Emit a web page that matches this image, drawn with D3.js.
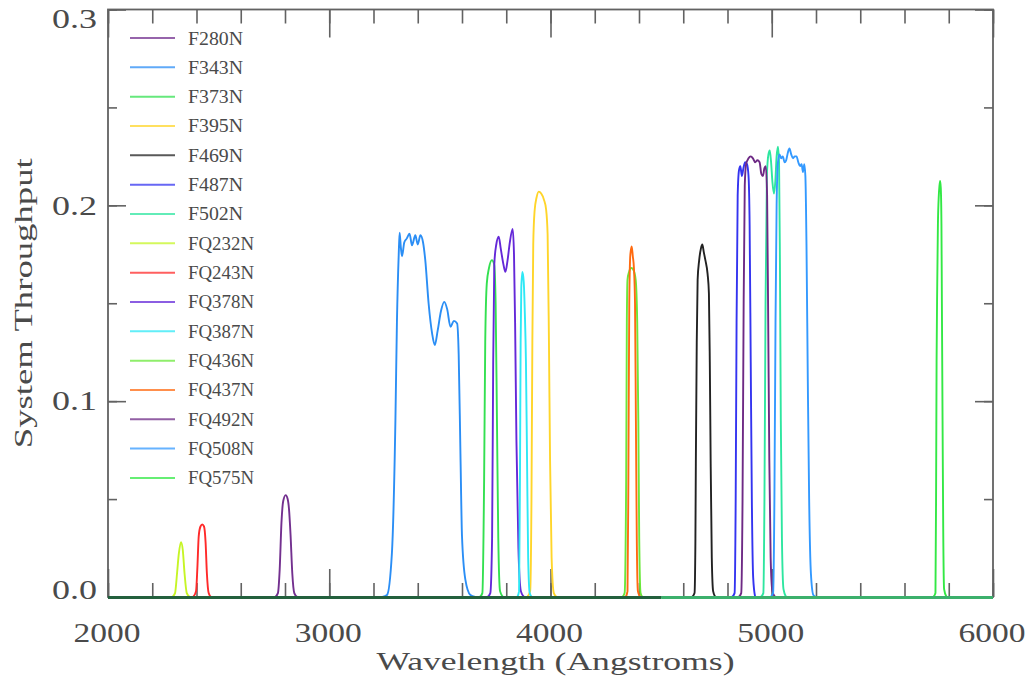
<!DOCTYPE html>
<html>
<head>
<meta charset="utf-8">
<script src="https://cdn.jsdelivr.net/npm/d3@7"></script>
<style>
  html, body { margin: 0; padding: 0; background: #fff; }
  svg { display: block; }
</style>
</head>
<body>
<script>
// Filter names, in legend / drawing order
const filterNames = ["F280N","F343N","F373N","F395N","F469N","F487N","F502N",
  "FQ232N","FQ243N","FQ378N","FQ387N","FQ436N","FQ437N","FQ492N","FQ508N","FQ575N"];

const filterColors = ["#73308f","#2b8ef5","#33e050","#ffd52a","#222222","#3434f0","#2ee6a0",
  "#c6f525","#ff2a2a","#6428d8","#2ee8f5","#6ae83a","#ff6a10","#6e2a85","#3399ff","#33e845"];

// Throughput curves: [wavelength (Angstroms), system throughput]
const F280N = [[2755,0],[2768,0.002],[2776,0.014],[2784,0.038],[2792,0.049],[2803,0.052],[2812,0.050],
  [2818,0.045],[2825,0.032],[2833,0.012],[2842,0.002],[2855,0]];
const F343N = [[3240,0],[3261,0.001],[3283,0.022],[3299,0.09],[3306,0.141],[3314,0.175],[3318,0.186],
  [3324,0.178],[3329,0.174],[3339,0.181],[3350,0.183],[3363,0.1855],[3374,0.1796],[3389,0.1847],
  [3400,0.180],[3412,0.1847],[3424,0.181],[3434,0.172],[3449,0.150],[3465,0.1345],[3477,0.1286],
  [3490,0.136],[3505,0.146],[3520,0.1507],[3533,0.147],[3548,0.138],[3563,0.141],[3578,0.1396],
  [3585,0.124],[3593,0.073],[3600,0.031],[3615,0.009],[3638,0.001],[3660,0]];
const F373N = [[3680,0],[3692,0.002],[3700,0.06],[3705,0.13],[3712,0.160],[3722,0.168],[3735,0.172],
  [3745,0.170],[3752,0.150],[3758,0.090],[3764,0.030],[3772,0.003],[3785,0]];
const F395N = [[3895,0],[3908,0.003],[3914,0.05],[3918,0.13],[3922,0.18],[3928,0.197],[3937,0.204],
  [3947,0.207],[3958,0.206],[3970,0.203],[3980,0.198],[3987,0.185],[3993,0.13],[3998,0.07],
  [4005,0.02],[4015,0.002],[4028,0]];
const F469N = [[4640,0],[4651,0.002],[4655,0.03],[4657,0.07],[4661,0.13],[4665,0.162],[4672,0.172],
  [4680,0.178],[4686,0.180],[4693,0.176],[4700,0.172],[4710,0.165],[4716,0.155],[4720,0.12],
  [4724,0.068],[4729,0.02],[4735,0.003],[4745,0]];
const F487N = [[4820,0],[4832,0.002],[4837,0.05],[4841,0.14],[4846,0.205],[4852,0.218],[4858,0.220],
  [4865,0.215],[4872,0.219],[4880,0.222],[4888,0.221],[4895,0.215],[4900,0.19],[4905,0.12],
  [4910,0.05],[4916,0.01],[4925,0]];
const F502N = [[4950,0],[4962,0.002],[4967,0.05],[4972,0.15],[4978,0.215],[4985,0.226],[4991,0.228],
  [4997,0.222],[5003,0.212],[5010,0.206],[5016,0.212],[5022,0.225],[5028,0.230],[5033,0.222],
  [5037,0.17],[5041,0.09],[5046,0.03],[5053,0.004],[5065,0]];
const FQ232N = [[2290,0],[2303,0.002],[2312,0.012],[2320,0.022],[2330,0.028],[2338,0.024],
  [2346,0.012],[2356,0.002],[2370,0]];
const FQ243N = [[2385,0],[2398,0.003],[2404,0.015],[2410,0.031],[2418,0.036],[2426,0.037],[2434,0.036],
  [2441,0.028],[2447,0.012],[2455,0.002],[2465,0]];
const FQ378N = [[3715,0],[3728,0.002],[3736,0.03],[3741,0.12],[3746,0.17],[3755,0.180],[3766,0.184],
  [3775,0.178],[3787,0.170],[3796,0.166],[3806,0.172],[3816,0.181],[3829,0.188],[3835,0.175],
  [3840,0.14],[3846,0.08],[3855,0.025],[3866,0.003],[3880,0]];
const FQ387N = [[3850,0],[3858,0.003],[3862,0.06],[3865,0.13],[3868,0.158],[3873,0.166],[3879,0.161],
  [3884,0.145],[3889,0.12],[3894,0.07],[3899,0.02],[3906,0.002],[3915,0]];
const FQ436N = [[4325,0],[4335,0.002],[4342,0.06],[4345,0.14],[4348,0.162],[4355,0.166],[4365,0.168],
  [4375,0.167],[4385,0.162],[4392,0.14],[4397,0.09],[4401,0.03],[4407,0.002],[4415,0]];
const FQ437N = [[4340,0],[4348,0.003],[4352,0.06],[4356,0.15],[4361,0.175],[4367,0.179],[4372,0.174],
  [4377,0.168],[4382,0.15],[4386,0.09],[4390,0.03],[4395,0.003],[4405,0]];
const FQ492N = [[4850,0],[4862,0.002],[4868,0.05],[4873,0.15],[4878,0.21],[4884,0.221],[4895,0.224],
  [4905,0.225],[4915,0.224],[4925,0.222],[4935,0.223],[4945,0.222],[4953,0.216],[4960,0.215],
  [4967,0.219],[4973,0.220],[4979,0.205],[4984,0.14],[4989,0.07],[4995,0.02],[5003,0.003],[5015,0]];
const FQ508N = [[4995,0],[5006,0.002],[5012,0.05],[5017,0.14],[5022,0.20],[5028,0.222],[5035,0.226],
  [5043,0.224],[5050,0.225],[5058,0.222],[5065,0.223],[5073,0.227],[5080,0.229],[5088,0.226],
  [5096,0.224],[5104,0.225],[5112,0.225],[5120,0.222],[5128,0.220],[5135,0.221],[5141,0.217],
  [5147,0.221],[5152,0.215],[5157,0.18],[5163,0.11],[5169,0.05],[5177,0.012],[5188,0.001],[5200,0]];
const FQ575N = [[5730,0],[5740,0.002],[5743,0.06],[5745,0.12],[5748,0.16],[5751,0.19],[5755,0.205],
  [5758,0.21],[5761,0.2125],[5764,0.209],[5767,0.19],[5769,0.15],[5772,0.09],[5775,0.035],
  [5779,0.004],[5790,0]];

const filterCurves = [F280N,F343N,F373N,F395N,F469N,F487N,F502N,
  FQ232N,FQ243N,FQ378N,FQ387N,FQ436N,FQ437N,FQ492N,FQ508N,FQ575N];

// Axis ticks and labels
const xTickValues = [2000,3000,4000,5000,6000];
const xTickLabels = ["2000","3000","4000","5000","6000"];
const yTickValues = [0,0.1,0.2,0.3];
const yTickLabels = ["0.0","0.1","0.2","0.3"];
const xDomain = [2000,6000];
const yDomain = [0,0.3];

// Zero level: the overlapping flat tails of all filters
const zeroLineSegments = [
  {from: 2000, to: 4500, color: "#23603d"},
  {from: 4500, to: 6000, color: "#3cb06c"}
];

const W = 1028, H = 683;
const plot = {left: 108, right: 993, top: 9.5, bottom: 597};
const FONT = "'Liberation Serif', 'DejaVu Serif', serif";
const TEXT = "#4a4a4a";
const FRAME = "#626262";

const svg = d3.select("body").append("svg")
  .attr("width", W).attr("height", H)
  .attr("viewBox", `0 0 ${W} ${H}`);

const x = d3.scaleLinear().domain(xDomain).range([plot.left, plot.right]);
const y = d3.scaleLinear().domain(yDomain).range([plot.bottom, plot.top]);

svg.append("defs").append("clipPath").attr("id", "plotClip")
  .append("rect")
  .attr("x", plot.left).attr("y", plot.top - 2)
  .attr("width", plot.right - plot.left).attr("height", plot.bottom - plot.top + 2);

// Minor / major ticks, drawn inward on all four sides
const xMinor = d3.range(xDomain[0], xDomain[1] + 1, 200);
const yMinor = d3.range(0, 0.3001, 0.05);

function tickLayer(axis, transform) {
  const g = svg.append("g").attr("transform", transform).call(axis);
  g.select(".domain").remove();
  g.selectAll(".tick line").attr("stroke", FRAME).attr("stroke-width", 1.6);
  g.selectAll(".tick text").remove();
  return g;
}
tickLayer(d3.axisBottom(x).tickValues(xMinor).tickSize(-14), `translate(0,${plot.bottom})`);
tickLayer(d3.axisBottom(x).tickValues(xTickValues).tickSize(-28), `translate(0,${plot.bottom})`);
tickLayer(d3.axisTop(x).tickValues(xMinor).tickSize(-14), `translate(0,${plot.top})`);
tickLayer(d3.axisTop(x).tickValues(xTickValues).tickSize(-28), `translate(0,${plot.top})`);
tickLayer(d3.axisLeft(y).tickValues(yMinor).tickSize(-9), `translate(${plot.left},0)`);
tickLayer(d3.axisLeft(y).tickValues(yTickValues).tickSize(-18), `translate(${plot.left},0)`);
tickLayer(d3.axisRight(y).tickValues(yMinor).tickSize(-9), `translate(${plot.right},0)`);
tickLayer(d3.axisRight(y).tickValues(yTickValues).tickSize(-18), `translate(${plot.right},0)`);

// Filter throughput curves
const line = d3.line()
  .x(d => x(d[0]))
  .y(d => y(d[1]))
  .curve(d3.curveMonotoneX);

const curves = svg.append("g").attr("clip-path", "url(#plotClip)");
filterCurves.forEach((data, i) => {
  curves.append("path")
    .datum(data)
    .attr("d", line)
    .attr("fill", "none")
    .attr("stroke", filterColors[i])
    .attr("stroke-width", 1.9)
    .attr("stroke-linejoin", "round");
});

// Plot frame
svg.append("rect")
  .attr("x", plot.left).attr("y", plot.top)
  .attr("width", plot.right - plot.left).attr("height", plot.bottom - plot.top)
  .attr("fill", "none").attr("stroke", FRAME).attr("stroke-width", 1.8);

// Zero level line, drawn over the bottom of the frame
svg.append("g").selectAll("line")
  .data(zeroLineSegments)
  .join("line")
  .attr("x1", d => x(d.from)).attr("x2", d => x(d.to))
  .attr("y1", y(0) + 0.5).attr("y2", y(0) + 0.5)
  .attr("stroke", d => d.color)
  .attr("stroke-width", 3.2);

// Tick labels
svg.append("g").selectAll("text")
  .data(xTickValues)
  .join("text")
  .attr("x", d => x(d) - 1)
  .attr("y", 642)
  .attr("text-anchor", "middle")
  .attr("font-family", FONT)
  .attr("font-size", 27)
  .attr("fill", TEXT)
  .attr("textLength", 67)
  .attr("lengthAdjust", "spacingAndGlyphs")
  .text((d, i) => xTickLabels[i]);

svg.append("g").selectAll("text")
  .data(yTickValues)
  .join("text")
  .attr("x", 97)
  .attr("y", d => Math.min(Math.max(y(d), plot.top + 9.5), plot.bottom - 7))
  .attr("dy", "0.34em")
  .attr("text-anchor", "end")
  .attr("font-family", FONT)
  .attr("font-size", 27)
  .attr("fill", TEXT)
  .attr("textLength", 45)
  .attr("lengthAdjust", "spacingAndGlyphs")
  .text((d, i) => yTickLabels[i]);

// Axis titles
svg.append("text")
  .attr("x", (plot.left + plot.right) / 2 + 5)
  .attr("y", 670)
  .attr("text-anchor", "middle")
  .attr("font-family", FONT)
  .attr("font-size", 26)
  .attr("fill", TEXT)
  .attr("textLength", 358)
  .attr("lengthAdjust", "spacingAndGlyphs")
  .text("Wavelength (Angstroms)");

svg.append("text")
  .attr("transform", `translate(32,${(plot.top + plot.bottom) / 2}) rotate(-90)`)
  .attr("text-anchor", "middle")
  .attr("font-family", FONT)
  .attr("font-size", 26)
  .attr("fill", TEXT)
  .attr("textLength", 290)
  .attr("lengthAdjust", "spacingAndGlyphs")
  .text("System Throughput");

// Legend
const legendTop = 38, legendStep = 29.33;
const legend = svg.append("g");
const rows = legend.selectAll("g")
  .data(filterNames)
  .join("g")
  .attr("transform", (d, i) => `translate(0,${legendTop + i * legendStep})`);
rows.append("line")
  .attr("x1", 130).attr("x2", 175)
  .attr("y1", 0).attr("y2", 0)
  .attr("stroke", (d, i) => filterColors[i])
  .attr("stroke-opacity", 0.75)
  .attr("stroke-width", 2);
rows.append("text")
  .attr("x", 188)
  .attr("y", 6.5)
  .attr("font-family", FONT)
  .attr("font-size", 19)
  .attr("fill", TEXT)
  .attr("textLength", d => d.length * 11)
  .attr("lengthAdjust", "spacingAndGlyphs")
  .text(d => d);
</script>
</body>
</html>
